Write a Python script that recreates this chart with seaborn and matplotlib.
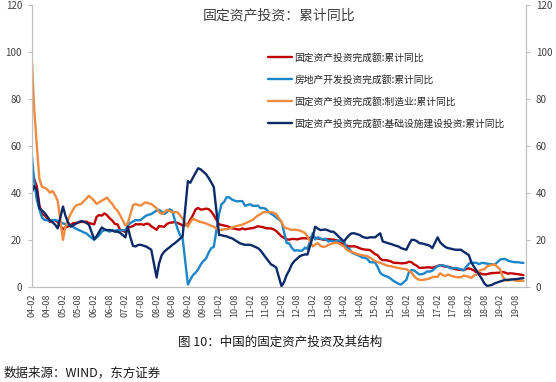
import pandas as pd
import matplotlib
matplotlib.use("Agg")
import matplotlib.pyplot as plt
import matplotlib.dates as mdates
import seaborn as sns


# ==========================
# 1. Datos (累计同比, %, 2月-12月)
# ==========================

series_names = [
    "固定资产投资完成额:累计同比",
    "房地产开发投资完成额:累计同比",
    "固定资产投资完成额:制造业:累计同比",
    "固定资产投资完成额:基础设施建设投资:累计同比",
]
series_colors = ["#C00000", "#1B86C8", "#F08A3E", "#0C2A68"]

total_fai = [
    50.0, 46.0, 42.8, 34.8, 31.0, 30.4, 29.1, 27.7, 28.3, 28.4, 27.6,  # 2004
    24.5, 25.3, 25.7, 26.4, 27.1, 27.2, 27.4, 27.7, 27.6, 27.8, 27.2,  # 2005
    26.6, 29.8, 30.6, 30.3, 31.3, 30.5, 29.2, 28.2, 26.8, 26.6, 24.3,  # 2006
    23.4, 25.3, 25.5, 25.9, 26.7, 26.6, 26.7, 26.4, 26.9, 26.8, 25.8,  # 2007
    24.3, 25.9, 25.7, 25.6, 26.8, 27.3, 27.4, 27.6, 27.2, 26.8, 26.1,  # 2008
    26.5, 28.6, 30.5, 32.9, 33.6, 32.9, 33.0, 33.3, 33.1, 32.1, 30.5,  # 2009
    26.6, 26.4, 26.1, 25.9, 25.5, 24.9, 24.8, 24.5, 24.4, 24.9, 24.5,  # 2010
    24.9, 25.0, 25.4, 25.8, 25.6, 25.4, 25.0, 24.9, 24.9, 24.5, 23.8,  # 2011
    21.5, 20.9, 20.2, 20.1, 20.4, 20.4, 20.2, 20.5, 20.7, 20.7, 20.6,  # 2012
    21.2, 20.9, 20.6, 20.4, 20.1, 20.1, 20.3, 20.2, 20.1, 19.9, 19.6,  # 2013
    17.9, 17.6, 17.3, 17.2, 17.3, 17.0, 16.5, 16.1, 15.9, 15.8, 15.7,  # 2014
    13.9, 13.5, 12.0, 11.4, 11.4, 11.2, 10.9, 10.3, 10.2, 10.2, 10.0,  # 2015
    10.2, 10.7, 10.5, 9.6, 9.0, 8.1, 8.1, 8.2, 8.3, 8.3, 8.1,  # 2016
    8.9, 9.2, 8.9, 8.6, 8.6, 8.3, 7.8, 7.5, 7.3, 7.2, 7.2,  # 2017
    7.9, 7.5, 7.0, 6.1, 6.0, 5.5, 5.3, 5.4, 5.7, 5.9, 5.9,  # 2018
    6.1, 6.3, 6.1, 5.6, 5.8, 5.7, 5.5, 5.4, 5.2, 5.0,  # 2019
]

real_estate = [
    57.0, 45.0, 37.0, 33.0, 29.5, 28.5, 28.3, 28.3, 28.3, 28.5, 28.1,  # 2004
    27.0, 26.8, 26.5, 26.2, 25.5, 24.8, 24.2, 23.8, 23.2, 22.8, 21.8,  # 2005
    20.0, 21.0, 22.0, 23.5, 24.2, 24.0, 23.5, 24.0, 23.9, 24.2, 24.0,  # 2006
    24.2, 26.0, 27.2, 27.8, 28.5, 28.3, 28.5, 29.5, 30.3, 30.7, 31.0,  # 2007
    32.5, 32.8, 32.0, 31.0, 31.8, 33.0, 32.5, 28.5, 25.0, 22.0, 20.9,  # 2008
    1.0, 3.0, 5.0, 6.0, 7.5, 9.5, 11.0, 12.0, 14.5, 16.5, 17.0,  # 2009
    31.1, 35.1, 36.2, 38.2, 38.1, 37.2, 36.7, 36.4, 36.5, 36.5, 34.5,  # 2010
    35.2, 34.5, 34.5, 34.6, 33.5, 33.6, 33.2, 32.0, 31.1, 30.5, 29.5,  # 2011
    27.8, 23.5, 18.7, 18.5, 16.6, 15.4, 15.6, 15.4, 15.4, 16.7, 16.2,  # 2012
    22.8, 20.2, 21.1, 20.6, 20.3, 20.5, 19.3, 19.7, 19.2, 19.5, 19.8,  # 2013
    19.3, 16.8, 16.4, 14.7, 14.1, 13.7, 13.2, 12.5, 12.4, 11.9, 10.5,  # 2014
    10.4, 8.5, 6.0, 5.1, 4.6, 4.3, 3.5, 2.6, 2.0, 1.3, 1.0,  # 2015
    3.0, 6.2, 7.2, 7.0, 6.1, 5.3, 5.4, 5.8, 6.6, 6.5, 6.9,  # 2016
    8.9, 9.1, 9.3, 8.8, 8.5, 7.9, 7.9, 8.1, 7.8, 7.5, 7.0,  # 2017
    9.9, 10.4, 10.3, 10.2, 9.7, 10.2, 10.1, 9.9, 9.7, 9.7, 9.5,  # 2018
    11.6, 11.8, 11.9, 11.2, 10.9, 10.6, 10.5, 10.5, 10.3, 10.2,  # 2019
]

manufacturing = [
    98.3, 76.0, 60.0, 46.0, 42.5, 42.2, 41.5, 40.1, 40.8, 39.0, 36.7,  # 2004
    20.0, 25.5, 28.5, 31.0, 33.0, 34.6, 35.0, 35.3, 36.5, 37.5, 38.8,  # 2005
    36.7, 35.3, 36.0, 36.7, 37.3, 38.0, 36.5, 35.3, 33.5, 32.5, 30.5,  # 2006
    26.2, 27.0, 31.0, 34.8, 35.3, 34.8, 34.6, 35.5, 36.0, 35.5, 35.3,  # 2007
    33.5, 31.8, 31.0, 31.8, 32.8, 32.3, 31.8, 31.8, 31.8, 30.5, 29.0,  # 2008
    25.6, 27.5, 29.0, 28.5, 28.0, 27.6, 27.3, 27.0, 26.5, 26.0, 25.6,  # 2009
    24.2, 24.3, 24.5, 24.6, 24.8, 25.2, 25.6, 26.0, 26.2, 26.5, 27.0,  # 2010
    28.0, 28.5, 29.5, 30.4, 31.0, 31.8, 31.8, 31.8, 31.8, 31.5, 31.0,  # 2011
    27.6, 25.5, 24.9, 24.6, 24.2, 24.4, 24.2, 24.0, 23.5, 23.0, 21.4,  # 2012
    17.2, 18.0, 18.6, 17.5, 17.0, 17.2, 17.8, 18.3, 18.6, 18.9, 18.5,  # 2013
    17.2, 16.0, 15.2, 14.9, 14.5, 14.0, 13.7, 13.5, 13.3, 13.1, 12.4,  # 2014
    11.0, 10.6, 10.2, 9.8, 9.3, 9.0, 8.8, 8.5, 8.3, 8.0, 7.8,  # 2015
    7.5, 6.8, 6.1, 4.6, 3.5, 3.0, 2.9, 3.1, 3.3, 3.6, 4.2,  # 2016
    4.3, 5.8, 5.0, 4.6, 5.3, 4.8, 4.5, 4.2, 4.1, 4.1, 4.8,  # 2017
    4.3, 3.8, 4.8, 5.2, 6.8, 7.3, 7.5, 8.7, 9.1, 9.5, 9.5,  # 2018
    7.5, 4.6, 2.8, 2.7, 3.0, 3.3, 2.6, 2.5, 2.6, 2.5,  # 2019
]

infrastructure = [
    40.1, 43.0, 41.0, 33.5, 32.5, 31.5, 30.0, 28.3, 27.5, 26.5, 24.9,  # 2004
    34.2, 30.4, 27.5, 25.6, 26.2, 26.9, 27.5, 28.0, 27.8, 27.2, 26.5,  # 2005
    20.3, 21.5, 23.5, 25.3, 24.5, 24.2, 24.2, 24.0, 23.5, 23.5, 23.0,  # 2006
    21.1, 25.6, 21.0, 17.5, 17.2, 17.9, 17.9, 17.5, 17.2, 16.5, 15.8,  # 2007
    4.0, 10.0, 13.5, 15.0, 16.0, 16.8, 17.8, 18.6, 19.5, 20.5, 21.4,  # 2008
    45.0, 44.3, 46.5, 48.5, 50.5, 50.0, 49.0, 48.0, 46.4, 44.5, 42.5,  # 2009
    22.1, 22.0, 21.7, 21.5, 21.0, 20.7, 20.0, 19.3, 18.6, 18.2, 17.9,  # 2010
    17.9, 17.5, 17.0, 16.5, 15.5, 14.0, 12.5, 11.0, 9.6, 9.0, 8.2,  # 2011
    0.3, 2.0, 5.0, 7.0, 9.6, 11.0, 12.0, 13.0, 13.5, 13.8, 13.8,  # 2012
    21.4, 25.6, 24.8, 24.2, 24.3, 24.4, 24.0, 23.5, 23.5, 22.5, 21.4,  # 2013
    19.3, 20.7, 22.0, 22.8, 22.8, 22.5, 22.1, 21.4, 21.0, 20.8, 21.1,  # 2014
    21.1, 22.0, 22.8, 19.3, 19.0, 18.6, 18.3, 17.9, 17.5, 17.2, 16.5,  # 2015
    15.8, 18.0, 20.0, 20.0, 19.5, 18.6, 18.5, 18.2, 17.9, 17.5, 16.5,  # 2016
    21.1, 19.0, 17.9, 17.0, 16.5, 16.3, 16.0, 15.8, 15.8, 15.8, 15.0,  # 2017
    13.5, 10.5, 8.6, 7.0, 5.1, 3.5, 1.5, 0.4, 0.6, 0.9, 1.5,  # 2018
    2.3, 2.6, 3.0, 3.0, 3.1, 3.2, 3.3, 3.4, 3.6, 3.7,  # 2019
]

y_ticks = [0, 20, 40, 60, 80, 100, 120]

# fechas mensuales sin enero
dates = [pd.Timestamp(y, m, 1) for y in range(2004, 2020) for m in range(2, 13)][:len(total_fai)]

all_values = [total_fai, real_estate, manufacturing, infrastructure]
df = pd.concat(
    [pd.DataFrame({"fecha": dates, "valor": vals, "serie": name})
     for name, vals in zip(series_names, all_values)],
    ignore_index=True,
)


# ==========================
# 2. Gráfico
# ==========================

sns.set_theme(style="white")
plt.rcParams["font.family"] = ["Noto Sans CJK SC", "DejaVu Sans"]
plt.rcParams["axes.unicode_minus"] = False

fig = plt.figure(figsize=(5.56, 3.82), dpi=100)
ax = fig.add_axes([0.057, 0.249, 0.889, 0.738])

sns.lineplot(data=df, x="fecha", y="valor", hue="serie", hue_order=series_names,
             palette=series_colors, linewidth=1.7, ax=ax)

ax.set_xlim(pd.Timestamp(2004, 2, 1), pd.Timestamp(2019, 12, 1))
ax.set_ylim(0, 120)
ax.set_yticks(y_ticks)
ax.set_xlabel("")
ax.set_ylabel("")

ax.xaxis.set_major_locator(mdates.MonthLocator(bymonth=[2, 8]))
ax.xaxis.set_major_formatter(mdates.DateFormatter("%y-%m"))
for lbl in ax.get_xticklabels():
    lbl.set_rotation(90)

grey = "#BFBFBF"
ax.tick_params(axis="x", length=3, width=0.8, color=grey, labelsize=6.5,
               labelcolor="#404040", pad=2)
ax.tick_params(axis="y", length=3, width=0.8, color=grey, labelsize=7,
               labelcolor="#404040", pad=4)

ax2 = ax.twinx()
ax2.set_ylim(0, 120)
ax2.set_yticks(y_ticks)
ax2.tick_params(axis="y", length=3, width=0.8, color=grey, labelsize=7,
                labelcolor="#404040", pad=4)

for a in (ax, ax2):
    a.spines["top"].set_visible(False)
    for s in ("left", "right", "bottom"):
        a.spines[s].set_color(grey)
        a.spines[s].set_linewidth(0.8)

ax.text(0.50, 0.963, "固定资产投资：累计同比", transform=ax.transAxes,
        ha="center", va="center", fontsize=10, color="#404040")

handles, labels = ax.get_legend_handles_labels()
leg = ax.legend(handles, labels, loc="upper left", bbox_to_anchor=(0.478, 0.832),
                frameon=False, fontsize=7, handlelength=2.5, handletextpad=0.2,
                labelspacing=1.25, borderpad=0, borderaxespad=0)
for t in leg.get_texts():
    t.set_color("#262626")

fig.text(0.504, 0.105, "图 10：中国的固定资产投资及其结构", ha="center", va="center",
         fontsize=9, color="#1A1A1A")
fig.text(0.006, 0.024, "数据来源：WIND，东方证券", ha="left", va="center",
         fontsize=9, color="#1A1A1A")

fig.savefig("out.png", dpi=100, facecolor="white")
